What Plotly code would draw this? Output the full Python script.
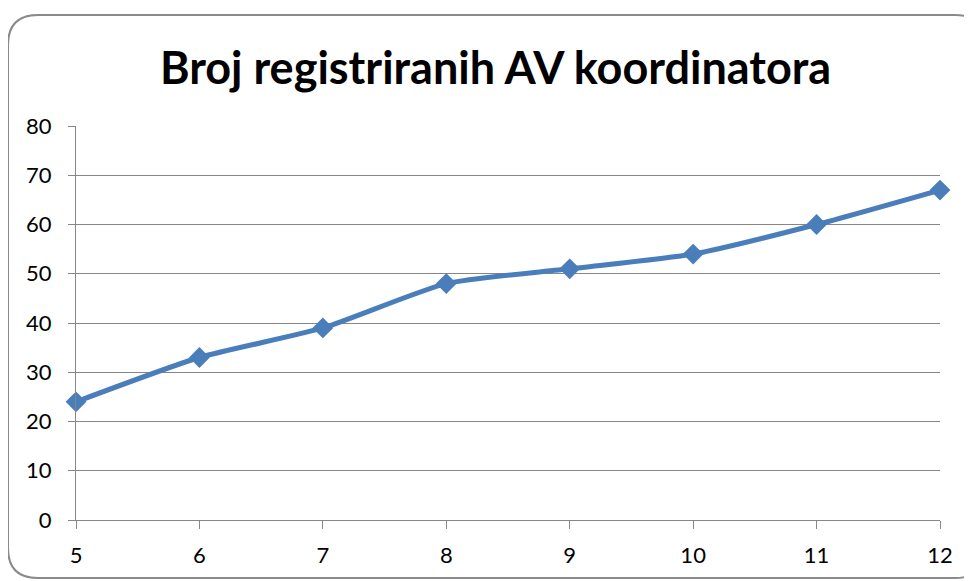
import plotly.graph_objects as go

years = [5, 6, 7, 8, 9, 10, 11, 12]
counts = [24, 33, 39, 48, 51, 54, 60, 67]
y_ticks = [0, 10, 20, 30, 40, 50, 60, 70, 80]
title_text = "Broj registriranih AV koordinatora"

OFF = 8  # page body offset
W, H = 972 - OFF, 581 - OFF
L, R, T, B = 76 - OFF, 972 - 940, 126 - OFF, 581 - 520
pw, ph = W - L - R, H - T - B

def px(x):
    return (x - OFF - L) / pw

def py(y):
    return (H - B - (y - OFF)) / ph

grid = "#868686"
blue = "#4a7ebb"

fig = go.Figure()
fig.add_trace(go.Scatter(
    x=years, y=counts, mode="lines+markers",
    line=dict(color=blue, width=5, shape="spline", smoothing=0.6),
    marker=dict(symbol="diamond", size=16, color=blue),
    cliponaxis=False, showlegend=False,
))

# rounded frame
x0, x1, y0, y1, r = 8, 985, 15, 578, 30
path = (
    f"M {px(x0)} {py(y0 + r)} "
    f"Q {px(x0)} {py(y0)} {px(x0 + r)} {py(y0)} "
    f"L {px(x1 - r)} {py(y0)} "
    f"Q {px(x1)} {py(y0)} {px(x1)} {py(y0 + r)} "
    f"L {px(x1)} {py(y1 - r)} "
    f"Q {px(x1)} {py(y1)} {px(x1 - r)} {py(y1)} "
    f"L {px(x0 + r)} {py(y1)} "
    f"Q {px(x0)} {py(y1)} {px(x0)} {py(y1 - r)} Z"
)
fig.add_shape(type="path", path=path, xref="paper", yref="paper",
              line=dict(color="#8a8a8a", width=2), layer="below")

fig.update_layout(
    width=W, height=H, autosize=False,
    margin=dict(l=L, r=R, t=T, b=B),
    paper_bgcolor="white", plot_bgcolor="white",
    title=dict(text=title_text, x=(495.5 - OFF) / W, xanchor="center",
               y=1 - (68 - OFF) / H, yanchor="middle", yref="container",
               font=dict(family="Lato", size=45, color="black", weight="bold")),
    font=dict(family="Lato", size=22, color="black"),
)
fig.update_xaxes(range=[5, 12], tickvals=years, showgrid=False, zeroline=False,
                 showline=True, linecolor=grid, linewidth=1,
                 ticks="outside", ticklen=8, tickcolor=grid, ticklabelstandoff=8)
fig.update_yaxes(range=[0, 80], tickvals=y_ticks, showgrid=True, gridcolor=grid,
                 gridwidth=1, zeroline=False, showline=True, linecolor=grid,
                 linewidth=1, ticks="outside", ticklen=7, tickcolor=grid,
                 ticklabelstandoff=12)

fig.write_html("out.html")
